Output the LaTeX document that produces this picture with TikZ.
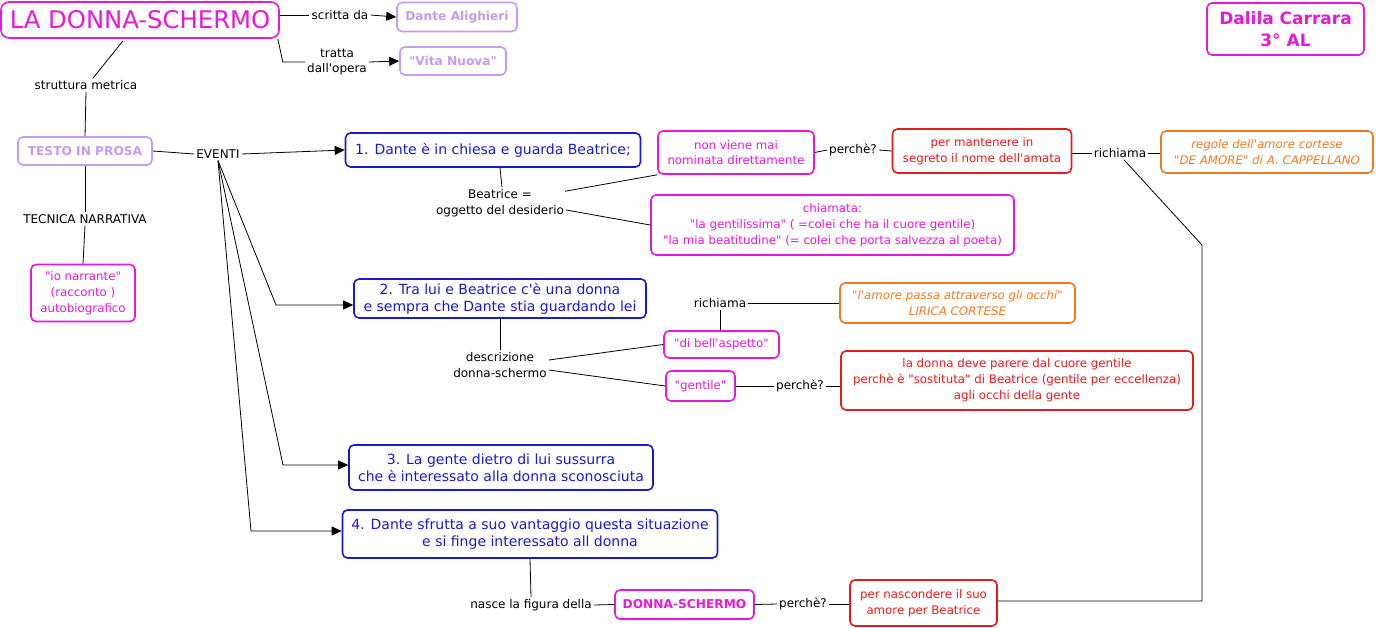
\documentclass[tikz,border=0pt]{standalone}
\usepackage{fontspec}
\setmainfont{DejaVu Sans}[Ligatures=TeXOff]
\usetikzlibrary{arrows.meta,calc}
\definecolor{mag}{HTML}{E41AD6}
\definecolor{lav}{HTML}{C49BF0}
\definecolor{blu}{HTML}{1A1ACC}
\definecolor{rd}{HTML}{E31B1B}
\definecolor{orn}{HTML}{F07A22}
\tikzset{
 txt/.style={font=\fontsize{11.8}{15.8}\selectfont},
 bx/.style={draw, rounded corners=5pt, line width=1.6pt, align=center, inner sep=2pt, txt},
 magbox/.style={bx, draw=mag, text=mag},
 lavbox/.style={bx, draw=lav, text=lav, font=\fontsize{12.2}{15.8}\selectfont\bfseries},
 blubox/.style={bx, draw=blu, text=blu, font=\fontsize{14}{17}\selectfont},
 redbox/.style={bx, draw=rd, text=rd},
 ornbox/.style={bx, draw=orn, text=orn, font=\fontsize{11.8}{15.8}\selectfont\itshape},
 lbl/.style={inner sep=2pt, align=center, font=\fontsize{12}{15.5}\selectfont},
 con/.style={line width=0.8pt},
 arr/.style={con, -{Triangle[length=10pt,width=9pt]}}
}
\begin{document}
\begin{tikzpicture}[x=1pt,y=-1pt]
\useasboundingbox (0,0) rectangle (1376,627);
% nodes
\node[magbox, rounded corners=8pt, minimum width=278pt, minimum height=36pt, font=\fontsize{24.3}{27}\selectfont] (title) at (140,20) {LA DONNA-SCHERMO};
\node[lavbox, minimum width=120pt, minimum height=29pt] (dante) at (457,17) {Dante Alighieri};
\node[lavbox, minimum width=106pt, minimum height=28pt] (vita) at (453,61) {"Vita Nuova"};
\node[lbl] (scritta) at (340,15) {scritta da};
\node[lbl] (tratta) at (337,62) {tratta\\dall'opera};
\node[lbl] (strutt) at (86,85) {struttura metrica};
\node[lavbox, minimum width=134pt, minimum height=28pt] (testo) at (85,151) {TESTO IN PROSA};
\node[lbl] (eventi) at (218,154) {EVENTI};
\node[lbl] (tecnica) at (85,219) {TECNICA NARRATIVA};
\node[magbox, minimum width=104pt, minimum height=57pt] (io) at (83,293) {"io narrante"\\(racconto )\\autobiografico};
\node[blubox, minimum width=295pt, minimum height=34pt] (box1) at (493,150) {1. Dante è in chiesa e guarda Beatrice;};
\node[blubox, minimum width=292pt, minimum height=39pt] (box2) at (500,298.5) {2. Tra lui e Beatrice c'è una donna\\e sempra che Dante stia guardando lei};
\node[blubox, minimum width=304pt, minimum height=45pt] (box3) at (501,467.5) {3. La gente dietro di lui sussurra\\che è interessato alla donna sconosciuta};
\node[blubox, minimum width=375pt, minimum height=48pt] (box4) at (530,534) {4. Dante sfrutta a suo vantaggio questa situazione\\e si finge interessato all donna};
\node[lbl] (beatr) at (500,203) {Beatrice =\\oggetto del desiderio};
\node[magbox, minimum width=156pt, minimum height=43pt] (nvmd) at (736,152.5) {non viene mai\\nominata direttamente};
\node[lbl] (perche1) at (853,150) {perchè?};
\node[redbox, minimum width=179pt, minimum height=44pt] (red1) at (982,151) {per mantenere in\\segreto il nome dell'amata};
\node[lbl] (rich1) at (1120,153) {richiama};
\node[ornbox, minimum width=212pt, minimum height=42pt] (or1) at (1267,152) {regole dell'amore cortese\\"DE AMORE" di A. CAPPELLANO};
\node[magbox, minimum width=363pt, minimum height=60pt] (chiam) at (832.5,225) {chiamata:\\"la gentilissima" ( =colei che ha il cuore gentile)\\"la mia beatitudine" (= colei che porta salvezza al poeta)};
\node[lbl] (rich2) at (720,303) {richiama};
\node[ornbox, minimum width=235pt, minimum height=40pt] (or2) at (957.5,303) {"l'amore passa attraverso gli occhi"\\LIRICA CORTESE};
\node[magbox, minimum width=115pt, minimum height=27pt] (bell) at (721.5,344.5) {"di bell'aspetto"};
\node[lbl] (descr) at (500,365) {descrizione\\donna-schermo};
\node[magbox, minimum width=69pt, minimum height=30pt] (gent) at (700.5,386) {"gentile"};
\node[lbl] (perche2) at (800,386) {perchè?};
\node[redbox, minimum width=352pt, minimum height=59pt] (red2) at (1017,380.5) {la donna deve parere dal cuore gentile\\perchè è "sostituta" di Beatrice (gentile per eccellenza)\\agli occhi della gente};
\node[lbl] (nasce) at (531,605) {nasce la figura della};
\node[magbox, minimum width=139pt, minimum height=29pt, font=\fontsize{12.2}{15.5}\selectfont\bfseries] (ds) at (684.5,604.5) {DONNA-SCHERMO};
\node[lbl] (perche3) at (803,604) {perchè?};
\node[redbox, minimum width=147pt, minimum height=46pt] (red3) at (923.5,603) {per nascondere il suo\\amore per Beatrice};
\node[magbox, minimum width=157pt, minimum height=52pt, font=\fontsize{17}{22}\selectfont\bfseries] (dalila) at (1285.5,29) {Dalila Carrara\\3° AL};
% connectors
\draw[con] (scritta.west -| title.east) -- (scritta.west);
\draw[arr] (scritta.east) -- (dante.west);
\draw[con] ([xshift=-2pt]title.south east) -- ($(title.south east |- tratta.west)+(3,0)$) -- (tratta.west);
\draw[arr] (tratta.east) -- (vita.west);
\draw[con] ($(title.south)+(-17,2)$) -- ([xshift=7pt]strutt.north);
\draw[con] (strutt.south) -- (testo.north);
\draw[con] (testo.east) -- (eventi.west);
\draw[arr] (eventi.east) -- (box1.west);
\draw[con] (testo.south) -- (tecnica.north);
\draw[con] (tecnica.south) -- (io.north);
\draw[arr] (eventi.south) -- (276,305) -- (box2.west |- 276,305);
\draw[arr] (eventi.south) -- (283,465) -- (box3.west |- 283,465);
\draw[arr] (eventi.south) -- (251,531) -- (box4.west |- 251,531);
\draw[con] ([xshift=7pt]box1.south) -- (beatr.north -| 502,187);
\draw[con] ($(beatr.north east)+(-1,4)$) -- (nvmd.south west);
\draw[con] ($(beatr.east)+(0,7)$) -- (chiam.west);
\draw[con] (nvmd.east) -- (perche1.west);
\draw[con] (perche1.east) -- (red1.west);
\draw[con] (red1.east |- rich1.west) -- (rich1.west);
\draw[con] (rich1.east) -- (or1.west |- rich1.east);
\draw[con] ([xshift=4pt]rich1.south) -- (1202,245) -- (1202,601) -- (red3.east |- 1202,601);
\draw[con] (box2.south) -- (descr.north);
\draw[con] ($(descr.east)+(0,-5)$) -- (bell.west);
\draw[con] ($(descr.east)+(0,5)$) -- (gent.west);
\draw[con] (rich2.east) -- (or2.west);
\draw[con] (rich2.south) -- (bell.north -| rich2.south);
\draw[con] (gent.east) -- (perche2.west);
\draw[con] (perche2.east) -- (red2.west |- perche2.east);
\draw[con] (box4.south) -- (nasce.north);
\draw[con] (nasce.east) -- (ds.west);
\draw[con] (ds.east) -- (perche3.west);
\draw[con] (perche3.east) -- (red3.west |- perche3.east);
\end{tikzpicture}
\end{document}
